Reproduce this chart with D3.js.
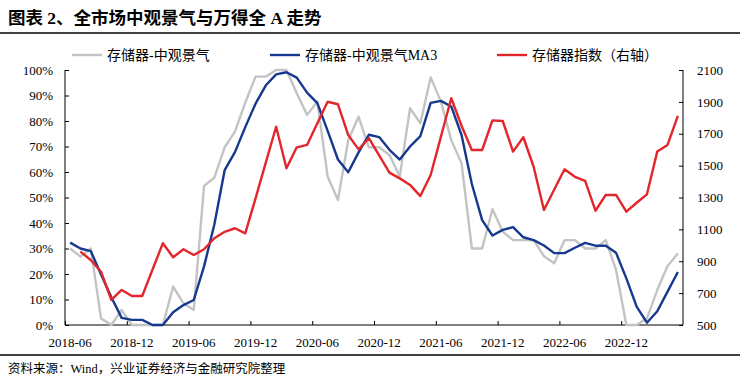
<!DOCTYPE html>
<html><head><meta charset="utf-8">
<script src="https://cdn.jsdelivr.net/npm/d3@7"></script>
<style>
html,body{margin:0;padding:0;background:#fff;}
svg{display:block;}
</style></head>
<body>
<svg id="chart" width="740" height="379"></svg>
<script>
const months = [
 "2018-06","2018-07","2018-08","2018-09","2018-10","2018-11","2018-12",
 "2019-01","2019-02","2019-03","2019-04","2019-05","2019-06","2019-07","2019-08","2019-09","2019-10","2019-11","2019-12",
 "2020-01","2020-02","2020-03","2020-04","2020-05","2020-06","2020-07","2020-08","2020-09","2020-10","2020-11","2020-12",
 "2021-01","2021-02","2021-03","2021-04","2021-05","2021-06","2021-07","2021-08","2021-09","2021-10","2021-11","2021-12",
 "2022-01","2022-02","2022-03","2022-04","2022-05","2022-06","2022-07","2022-08","2022-09","2022-10","2022-11","2022-12",
 "2023-01","2023-02","2023-03","2023-04","2023-05"];
const tickLabels = ["2018-06","2018-12","2019-06","2019-12","2020-06","2020-12","2021-06","2021-12","2022-06","2022-12"];
const seriesNames = ["存储器-中观景气","存储器-中观景气MA3","存储器指数（右轴）"];
const sentiment = [30,26.8,30,2.6,0,5.9,0,0,0,0,15,8.5,5.9,54.5,57.8,69.7,75.8,87.2,97.4,97.4,
 100,100,90.9,82.4,87.6,58.2,49,72.5,81.7,69.7,69.7,66.7,58.2,85,79.1,97.1,87.6,72.5,63.4,30,
 30,45.4,36.6,33.3,33.3,33.3,27,24.2,33.3,33.3,30,30,33.3,21.6,0,0,2.6,13.7,23.1,28];
const sentimentMA3 = [32.3,30,29,19.8,10.9,2.8,2.0,2.0,0,0,5,7.8,9.8,23,39.4,60.7,67.8,77.6,86.8,94,
 98.3,99.1,97,91.1,87,76.1,64.9,59.9,67.7,74.6,73.7,68.7,64.9,70,74.1,87.1,87.9,85.7,74.5,55.3,
 41.1,35.1,37.3,38.4,34.4,33.3,31.2,28.2,28.2,30.3,32.2,31.1,31.1,28.3,18.3,7.2,0.9,5.4,13.1,20.8];
const memoryIndex = [null,960,908,834,657,720,682,682,848,1013,925,975,939,975,1044,1085,1107,1075,1294,1520,
 1744,1483,1615,1630,1766,1901,1885,1692,1602,1672,1565,1456,1420,1379,1309,1441,1682,1923,1750,1598,
 1598,1784,1780,1588,1678,1493,1222,1350,1477,1430,1404,1217,1316,1316,1211,1267,1320,1588,1630,1812];
const leftTicks = [0,10,20,30,40,50,60,70,80,90,100];
const rightTicks = [500,700,900,1100,1300,1500,1700,1900,2100];

const svg = d3.select("#chart");
const L = 65, R = 683, T = 70, B = 325;
const serif = "'Liberation Serif','Times New Roman',serif";
const mixed = "'Liberation Serif','Noto Sans CJK SC','Noto Sans CJK JP',serif";

const x = d3.scaleBand().domain(months).range([L, R]).padding(0);
const cx = m => x(m) + x.bandwidth() / 2;
const yL = d3.scaleLinear().domain([0, 100]).range([B, T]);
const yR = d3.scaleLinear().domain([500, 2100]).range([B, T]);

// title
svg.append("text").attr("x", 8).attr("y", 24).attr("font-family", mixed).attr("font-weight", "bold")
  .attr("font-size", 17.5).attr("fill", "#000").text("图表 2、全市场中观景气与万得全 A 走势");
svg.append("line").attr("x1", 0).attr("x2", 740).attr("y1", 33).attr("y2", 33).attr("stroke", "#000").attr("stroke-width", 1.3);
svg.append("line").attr("x1", 0).attr("x2", 740).attr("y1", 355).attr("y2", 355).attr("stroke", "#000").attr("stroke-width", 1.3);
svg.append("text").attr("x", 8).attr("y", 373).attr("font-family", mixed).attr("font-size", 12.5)
  .attr("fill", "#000").text("资料来源：Wind，兴业证券经济与金融研究院整理");

// axes
const axL = svg.append("g").attr("transform", `translate(${L},0)`)
  .call(d3.axisRight(yL).tickValues(leftTicks).tickSize(4).tickFormat(d => d + "%"));
axL.selectAll("text").attr("x", -12).attr("text-anchor", "end");
const axR = svg.append("g").attr("transform", `translate(${R},0)`)
  .call(d3.axisLeft(yR).tickValues(rightTicks).tickSize(4).tickFormat(d3.format("d")));
axR.selectAll("text").attr("x", 14).attr("text-anchor", "start");
const xTickScale = d3.scalePoint().domain(tickLabels).range([x("2018-06"), x("2022-12")]);
const axB = svg.append("g").attr("transform", `translate(0,${B})`)
  .call(d3.axisTop(xTickScale).tickValues(tickLabels).tickSize(4).tickFormat(""));
axB.select(".domain").remove();
svg.append("line").attr("x1", L).attr("x2", R).attr("y1", B).attr("y2", B).attr("stroke", "#000");
svg.selectAll(".xlab").data(tickLabels).join("text").attr("class", "xlab")
  .attr("x", d => cx(d)).attr("y", B + 22).attr("text-anchor", "middle")
  .attr("font-family", serif).attr("font-size", 13).attr("fill", "#000").text(d => d);
[axL, axR, axB].forEach(a => {
  a.selectAll("line").attr("stroke", "#000");
  a.selectAll("text").attr("font-family", serif).attr("font-size", 13).attr("fill", "#000");
});
axL.select("path.domain").remove();
axR.select("path.domain").remove();
svg.append("line").attr("x1", L).attr("x2", L).attr("y1", T).attr("y2", B).attr("stroke", "#000");
svg.append("line").attr("x1", R).attr("x2", R).attr("y1", T).attr("y2", B).attr("stroke", "#000");

// lines
const colors = ["#c3c3c3", "#16388f", "#e3262b"];
const lineL = d3.line().defined(d => d[1] != null).x(d => cx(d[0])).y(d => yL(d[1]));
const lineR = d3.line().defined(d => d[1] != null).x(d => cx(d[0])).y(d => yR(d[1]));
svg.append("path").datum(months.map((m, i) => [m, sentiment[i]])).attr("d", lineL)
  .attr("fill", "none").attr("stroke", colors[0]).attr("stroke-width", 2.4).attr("stroke-linejoin", "round");
svg.append("path").datum(months.map((m, i) => [m, sentimentMA3[i]])).attr("d", lineL)
  .attr("fill", "none").attr("stroke", colors[1]).attr("stroke-width", 2.4).attr("stroke-linejoin", "round");
svg.append("path").datum(months.map((m, i) => [m, memoryIndex[i]])).attr("d", lineR)
  .attr("fill", "none").attr("stroke", colors[2]).attr("stroke-width", 2.4).attr("stroke-linejoin", "round");

// legend
const legX = [72, 270, 497];
seriesNames.forEach((n, i) => {
  svg.append("line").attr("x1", legX[i]).attr("x2", legX[i] + 30).attr("y1", 55).attr("y2", 55)
    .attr("stroke", colors[i]).attr("stroke-width", 2.4);
  svg.append("text").attr("x", legX[i] + 35).attr("y", 60).attr("font-family", mixed)
    .attr("font-size", 14).attr("fill", "#000").text(n);
});
</script>
</body></html>
